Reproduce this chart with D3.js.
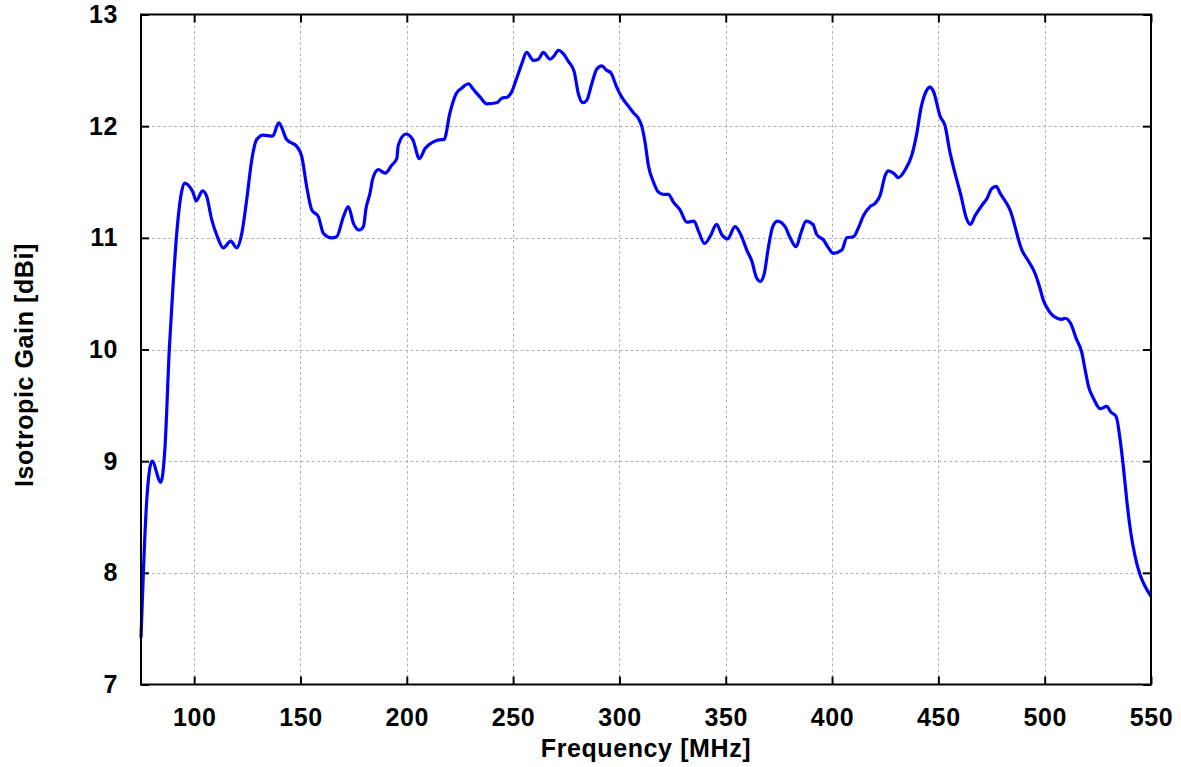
<!DOCTYPE html>
<html>
<head>
<meta charset="utf-8">
<script src="https://cdn.jsdelivr.net/npm/d3@7"></script>
<style>
  body { margin: 0; background: #fff; }
  svg { display: block; font-family: "Liberation Sans", Arial, sans-serif; font-weight: bold; }
</style>
</head>
<body>
<svg id="chart"></svg>
<script>
// frequency samples [MHz]
const freq = [
  75, 76.1, 77.7, 80.2, 84.3, 86.3, 88.3, 90.0, 91.8, 93.7,
  95.4, 99.6, 100.9, 104.0, 105.9, 108.3, 110.9, 113.7, 117.2, 120.0,
  122.4, 124.7, 127.1, 129.4, 132.5, 136.9, 139.8, 143.5, 148.2, 150.6,
  152.9, 155.3, 158.4, 160.8, 164.7, 167.0, 170.2, 172.5, 174.9, 177.7,
  179.6, 180.8, 182.7, 184.0, 186.6, 189.8, 192.9, 195.3, 196.0, 199.6,
  202.8, 205.9, 208.6, 212.5, 216.4, 217.5, 220.3, 223.2, 225.8, 229.0,
  231.3, 234.5, 237.6, 242.3, 244.7, 247.3, 249.4, 251.7, 254.1, 256.4,
  259.5, 261.9, 264.2, 267.4, 269.3, 271.3, 273.6, 276.0, 278.7, 280.7,
  282.8, 284.6, 287.0, 289.3, 291.7, 294.0, 295.9, 298.7, 301.1, 304.2,
  306.6, 308.9, 310.5, 312.1, 313.6, 316.0, 318.3, 320.7, 323.0, 325.4,
  328.5, 331.7, 335.1, 337.2, 340.0, 342.6, 345.7, 348.1, 350.8, 354.4,
  357.5, 359.9, 362.3, 364.3, 366.2, 368.0, 370.1, 372.1, 374.3, 377.9,
  380.3, 383.1, 385.3, 387.8, 391.0, 392.8, 396.0, 398.3, 400.6, 404.6,
  406.9, 410.1, 412.4, 414.8, 417.9, 420.3, 422.6, 425.0, 426.5, 428.9,
  431.2, 434.4, 437.5, 439.9, 441.7, 444.2, 446.1, 447.7, 450.8, 453.2,
  455.2, 457.4, 460.6, 463.1, 465.0, 467.3, 470.4, 472.8, 475.1, 477.2,
  479.0, 483.7, 489.3, 492.4, 495.5, 497.6, 499.4, 501.8, 504.1, 508.1,
  509.6, 512.3, 514.8, 517.5, 519.0, 520.6, 523.0, 526.1, 529.2, 531.1,
  533.6, 535.5, 537.0, 538.6, 540.5, 542.5, 544.9, 547.2, 550
];

// isotropic gain [dBi] at each frequency above
const gain = [
  7.42, 8.0, 8.65, 9.0, 8.81, 9.13, 10.0, 10.55, 11.04, 11.37,
  11.49, 11.40, 11.33, 11.42, 11.37, 11.16, 11.01, 10.91, 10.97, 10.91,
  11.04, 11.34, 11.70, 11.88, 11.92, 11.91, 12.03, 11.88, 11.82, 11.73,
  11.46, 11.25, 11.19, 11.04, 11.0, 11.01, 11.19, 11.28, 11.13, 11.07,
  11.10, 11.26, 11.40, 11.53, 11.61, 11.58, 11.65, 11.71, 11.83, 11.93,
  11.88, 11.71, 11.80, 11.86, 11.88, 11.88, 12.12, 12.29, 12.34, 12.38,
  12.33, 12.26, 12.20, 12.21, 12.25, 12.26, 12.31, 12.43, 12.56, 12.66,
  12.59, 12.60, 12.66, 12.60, 12.63, 12.68, 12.65, 12.58, 12.49, 12.29,
  12.21, 12.23, 12.38, 12.51, 12.54, 12.50, 12.48, 12.35, 12.26, 12.18,
  12.12, 12.07, 12.0, 11.85, 11.65, 11.50, 11.41, 11.39, 11.39, 11.32,
  11.25, 11.14, 11.15, 11.06, 10.95, 11.01, 11.12, 11.03, 10.99, 11.10,
  11.01, 10.89, 10.79, 10.65, 10.61, 10.67, 10.92, 11.10, 11.15, 11.10,
  11.0, 10.92, 11.04, 11.15, 11.12, 11.03, 10.98, 10.91, 10.86, 10.89,
  11.0, 11.01, 11.09, 11.20, 11.28, 11.31, 11.38, 11.56, 11.60, 11.58,
  11.54, 11.61, 11.74, 11.94, 12.15, 12.31, 12.35, 12.31, 12.09, 12.0,
  11.79, 11.61, 11.38, 11.18, 11.12, 11.20, 11.29, 11.35, 11.44, 11.46,
  11.40, 11.25, 10.89, 10.79, 10.68, 10.56, 10.44, 10.35, 10.30, 10.27,
  10.28, 10.23, 10.10, 9.97, 9.82, 9.67, 9.56, 9.47, 9.49, 9.44,
  9.40, 9.19, 8.95, 8.65, 8.36, 8.15, 7.98, 7.88, 7.79
];

const xTicks = [100, 150, 200, 250, 300, 350, 400, 450, 500, 550];
const yTicks = [7, 8, 9, 10, 11, 12, 13];
const xLabel = "Frequency [MHz]";
const yLabel = "Isotropic Gain [dBi]";

const width = 1181, height = 767;
const margin = {top: 14.5, right: 30, bottom: 82.5, left: 141};
const fontSize = 25, spacing = "0.6px";

const data = freq.map((f, i) => ({f: f, g: gain[i]}));

const x = d3.scaleLinear([75, 550], [margin.left, width - margin.right]);
const y = d3.scaleLinear([7, 13], [height - margin.bottom, margin.top]);

const svg = d3.select("#chart")
    .attr("width", width)
    .attr("height", height)
    .attr("viewBox", [0, 0, width, height]);

const innerW = width - margin.left - margin.right;
const innerH = height - margin.top - margin.bottom;

// dotted grid
const grid = svg.append("g")
    .attr("stroke", "#b4b4b4")
    .attr("stroke-width", 1)
    .attr("stroke-dasharray", "3,2.5");
grid.selectAll(".vx").data(xTicks.filter(d => d < 550)).join("line")
    .attr("x1", d => Math.round(x(d)) + 0.5).attr("x2", d => Math.round(x(d)) + 0.5)
    .attr("y1", margin.top).attr("y2", height - margin.bottom);
grid.selectAll(".hy").data(yTicks.filter(d => d > 7 && d < 13)).join("line")
    .attr("y1", d => Math.round(y(d)) + 0.5).attr("y2", d => Math.round(y(d)) + 0.5)
    .attr("x1", margin.left).attr("x2", width - margin.right);

// axes with inward ticks on all four sides
const axisStyle = g => g
    .call(g => g.select(".domain").remove())
    .call(g => g.selectAll(".tick line").attr("stroke", "#000").attr("stroke-width", 2))
    .call(g => g.selectAll(".tick text")
        .attr("fill", "#000")
        .attr("font-size", fontSize)
        .attr("font-weight", "bold")
        .attr("letter-spacing", spacing));

svg.append("g")
    .attr("transform", `translate(0,${height - margin.bottom})`)
    .call(d3.axisBottom(x).tickValues(xTicks).tickSize(-8).tickPadding(24).tickFormat(d3.format("d")))
    .call(axisStyle)
    .call(g => g.selectAll(".tick text").attr("dy", "0.71em"));

svg.append("g")
    .attr("transform", `translate(0,${margin.top})`)
    .call(d3.axisTop(x).tickValues(xTicks).tickSize(-8).tickFormat(""))
    .call(axisStyle);

svg.append("g")
    .attr("transform", `translate(${margin.left},0)`)
    .call(d3.axisLeft(y).tickValues(yTicks).tickSize(-8).tickPadding(23).tickFormat(d3.format("d")))
    .call(axisStyle);

svg.append("g")
    .attr("transform", `translate(${width - margin.right},0)`)
    .call(d3.axisRight(y).tickValues(yTicks).tickSize(-8).tickFormat(""))
    .call(axisStyle);

// curve
const line = d3.line()
    .x(d => x(d.f))
    .y(d => y(d.g))
    .curve(d3.curveMonotoneX);

svg.append("path")
    .datum(data)
    .attr("fill", "none")
    .attr("stroke", "#0000ff")
    .attr("stroke-width", 3.2)
    .attr("stroke-linejoin", "round")
    .attr("d", line);

// frame
svg.append("rect")
    .attr("x", margin.left).attr("y", margin.top)
    .attr("width", innerW).attr("height", innerH)
    .attr("fill", "none")
    .attr("stroke", "#000")
    .attr("stroke-width", 2);

// axis titles
svg.append("text")
    .attr("x", margin.left + innerW / 2)
    .attr("y", 757)
    .attr("text-anchor", "middle")
    .attr("font-size", fontSize)
    .attr("letter-spacing", spacing)
    .text(xLabel);

svg.append("text")
    .attr("transform", "translate(33,365) rotate(-90)")
    .attr("text-anchor", "middle")
    .attr("font-size", fontSize)
    .attr("letter-spacing", spacing)
    .text(yLabel);
</script>
</body>
</html>
